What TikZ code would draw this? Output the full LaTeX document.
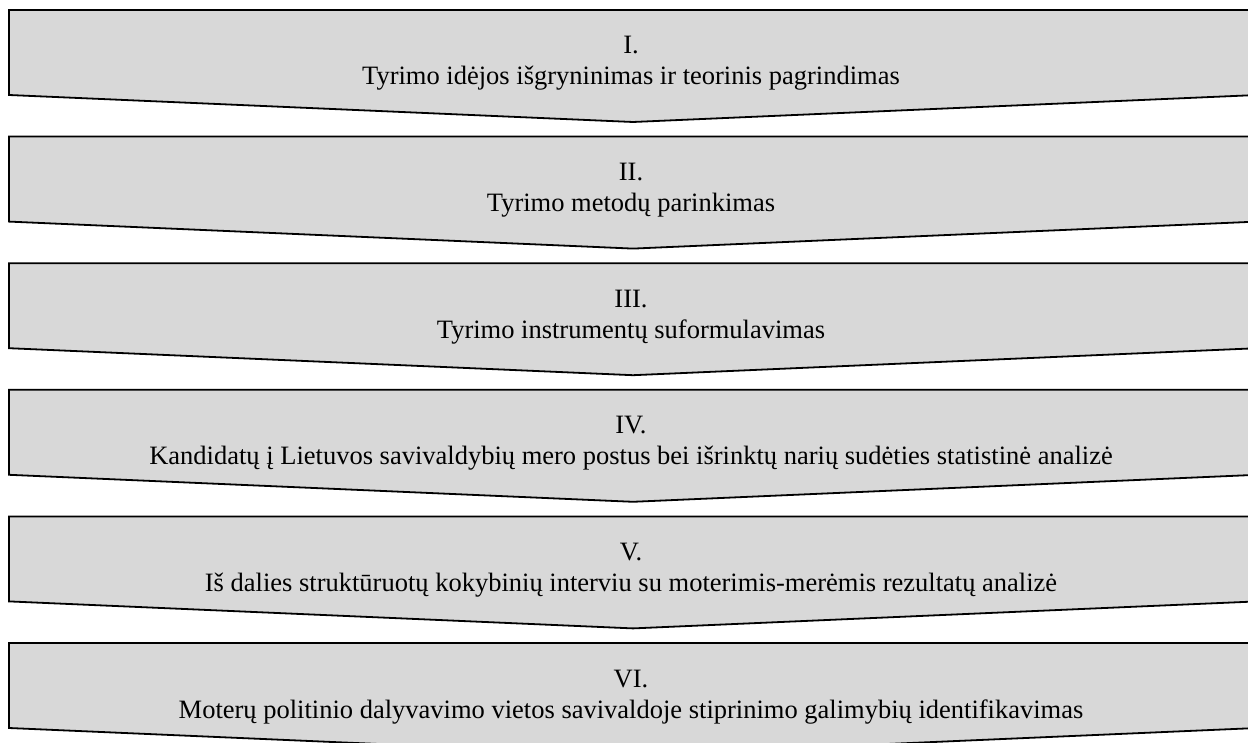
\documentclass[tikz,border=0pt]{standalone}
\usepackage{fontspec}
\setmainfont{Liberation Serif}
\begin{document}
\begin{tikzpicture}[x=1pt,y=-1pt,
  stagebox/.style={draw=black,line width=1.8pt,fill=boxgray,line join=miter},
  stagetext/.style={anchor=base,font=\fontsize{26.5}{31}\selectfont,inner sep=0pt}]
\definecolor{boxgray}{HTML}{D8D8D8}
\useasboundingbox (0,0) rectangle (1248,743);
\clip (0,0) rectangle (1248,743);
\foreach \t/\name/\num/\txt in {
  10/s1/I./Tyrimo idėjos išgryninimas ir teorinis pagrindimas,
  136.6/s2/II./Tyrimo metodų parinkimas,
  263.2/s3/III./Tyrimo instrumentų suformulavimas,
  389.8/s4/IV./Kandidatų į Lietuvos savivaldybių mero postus bei išrinktų narių sudėties statistinė analizė,
  516.4/s5/V./Iš dalies struktūruotų kokybinių interviu su moterimis-merėmis rezultatų analizė,
  643/s6/VI./Moterų politinio dalyvavimo vietos savivaldoje stiprinimo galimybių identifikavimas}{
  \draw[stagebox] (9,\t) -- (1257,\t) -- (1257,\t+85) -- (633,\t+112) -- (9,\t+85) -- cycle;
  \node[stagetext] (\name num) at (631,\t+44) {\num};
  \node[stagetext] (\name txt) at (631,\t+75) {\txt};
}
\end{tikzpicture}
\end{document}
